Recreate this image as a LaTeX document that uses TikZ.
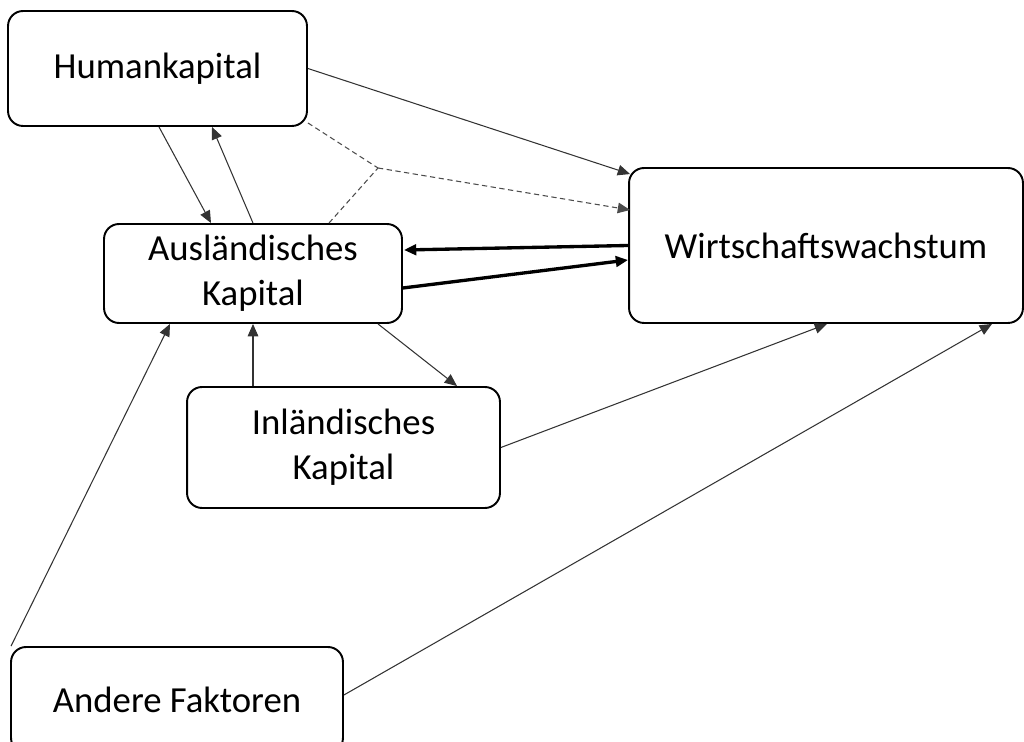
\documentclass[tikz,border=0pt]{standalone}
\usepackage{fontspec}
\setmainfont{Carlito}
\usepackage{tikz}
\usetikzlibrary{arrows.meta,calc}

\begin{document}
\begin{tikzpicture}[
x=0.02cm,
y=-0.02cm,
every node/.style={font=\fontsize{20.9}{25.6}\selectfont},
kbox/.style={rectangle,rounded corners=0.3cm,draw,line width=1.1pt,align=center,inner sep=0pt},
karr/.style={-{Triangle[length=7pt,width=6pt]},line width=0.6pt,draw=black!80},
kthick/.style={-{Triangle[length=7pt,width=6pt]},line width=1.9pt},
kdash/.style={line width=0.6pt,draw=black!70,dash pattern=on 3pt off 2pt},
kdasharr/.style={kdash,-{Triangle[length=7pt,width=6pt]}}
]
\useasboundingbox (0,0) rectangle (1024,742);

\node[kbox,minimum width=5.98cm,minimum height=2.3cm] (hk) at (157.5,68.5) {Humankapital};
\node[kbox,minimum width=5.96cm,minimum height=1.98cm] (ak) at (253,273.5) {Ausländisches\\Kapital};
\node[kbox,minimum width=6.26cm,minimum height=2.42cm] (ik) at (343.5,447.5) {Inländisches\\Kapital};
\node[kbox,minimum width=7.88cm,minimum height=3.1cm] (ww) at (826,245.5) {Wirtschaftswachstum};
\node[kbox,minimum width=6.64cm,minimum height=2.12cm] (af) at (177,700) {Andere Faktoren};
\coordinate (jn) at (378,168);

\draw[karr] ($(hk.south)+(1.5,0)$) -- ($(ak.north)+(-42,0)$);
\draw[karr] (ak.north) -- ($(hk.south)+(54.5,0)$);
\draw[karr] (hk.east) -- ($(ww.north west)+(2,7)$);

\draw[kdash] ($(hk.south east)+(0,-4)$) -- (jn);
\draw[kdash] ($(ak.north)+(76,0)$) -- (jn);
\draw[kdasharr] (jn) -- ($(ww.west)+(2,-35.5)$);

\draw[kthick] (ww.west) -- ($(ak.east)+(1,-23.5)$);
\draw[kthick] ($(ak.east)+(0,14.5)$) -- ($(ww.west)+(0,14.5)$);

\draw[karr] ($(ak.south)+(125,0)$) -- ($(ik.north)+(113.5,0)$);
\draw[karr] ($(ik.north)+(-90.5,0)$) -- ($(ak.south)+(0,0)$);
\draw[karr] (ik.east) -- ($(ww.south)+(1,0)$);

\draw[karr] ($(af.east)+(0,-5)$) -- ($(ww.south)+(166,0)$);
\draw[karr] ($(af.north west)+(1,0)$) -- ($(ak.south)+(-83,0)$);
\end{tikzpicture}
\end{document}
